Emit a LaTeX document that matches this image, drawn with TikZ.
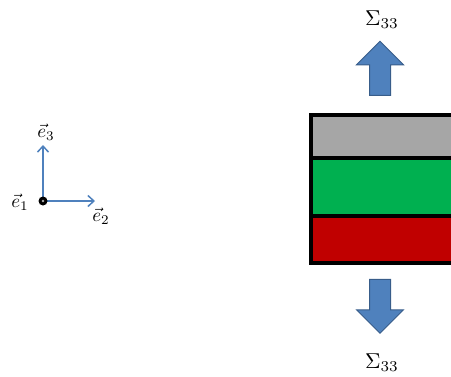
\documentclass[tikz,border=0pt]{standalone}
\usepackage{amsmath,amssymb}
\usepackage{tikz}
\usetikzlibrary{arrows.meta,positioning,calc,shapes.arrows}

\definecolor{axisblue}{RGB}{79,129,189}
\definecolor{arrowedge}{RGB}{56,93,138}
\definecolor{layergray}{RGB}{166,166,166}
\definecolor{layergreen}{RGB}{0,176,80}
\definecolor{layerred}{RGB}{192,0,0}

\begin{document}
\begin{tikzpicture}[
    x=1pt, y=-1pt,
    axis/.style={line width=1.5pt, axisblue, -{Straight Barb[length=6pt,width=11pt]}},
    layer/.style={draw=black, line width=3.5pt},
    bigarrow/.style={single arrow, draw=arrowedge, line width=1pt, fill=axisblue, minimum height=54pt, inner xsep=0pt, inner ysep=10pt, single arrow head extend=13pt},
    lbl/.style={scale=1.9, inner sep=1pt},
    sig/.style={scale=2.15, inner sep=1pt}
  ]
  \useasboundingbox (0,0) rectangle (451,376);

  % base vectors
  \coordinate (O) at (43,201);
  \coordinate (E3) at (43,145);
  \coordinate (E2) at (95,201);
  \draw[axis] (O) -- (E3);
  \draw[axis] (O) -- (E2);
  \fill[black] (O) circle (4.5);
  \fill[gray!60] (O) circle (1.3);
  \node[lbl] (e1) at (20,202) {$\vec{e}_1$};
  \node[lbl] (e3) at (46,132) {$\vec{e}_3$};
  \node[lbl] (e2) at (101,216) {$\vec{e}_2$};

  % layered block
  \fill[layergray] (311,115) rectangle (460,158);
  \fill[layergreen] (311,158) rectangle (460,216);
  \fill[layerred] (311,216) rectangle (460,263);
  \draw[layer] (460,115) -- (311,115) -- (311,263) -- (460,263);
  \draw[layer] (311,158) -- (460,158);
  \draw[layer] (311,216) -- (460,216);

  % loading
  \node[bigarrow, rotate=90] (up) at (380,73.5) {};
  \node[bigarrow, rotate=-90] (down) at (380,301) {};
  \node[sig] (stop) at (382,20) {$\Sigma_{33}$};
  \node[sig] (sbot) at (382,363) {$\Sigma_{33}$};
\end{tikzpicture}
\end{document}
